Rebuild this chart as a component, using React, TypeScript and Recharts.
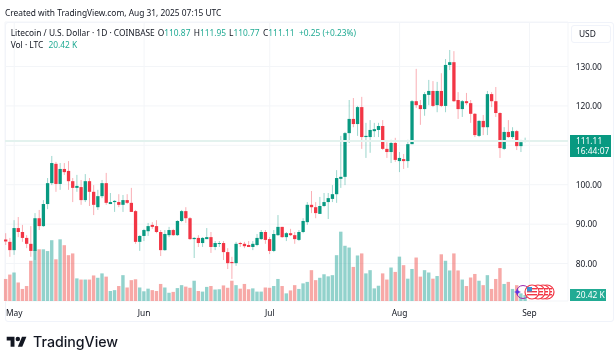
import { Bar, CartesianGrid, ComposedChart, ReferenceLine, XAxis, YAxis } from "recharts";

// daily candles, Apr 29 .. Aug 31 2025
const opens = [86.1,85.5,83.4,89.0,88.0,86.5,85.0,83.2,91.5,89.5,95.1,100.4,105.3,100.2,104.0,103.5,100.9,99.2,99.4,96.1,100.9,98.2,94.3,97.1,100.4,95.1,95.6,95.6,94.9,96.1,95.4,93.3,85.5,87.0,88.2,89.8,89.5,88.0,83.4,87.2,88.5,87.2,90.8,93.3,91.5,86.2,86.5,85.2,86.2,86.7,84.2,85.0,85.2,82.9,80.4,80.1,85.2,85.0,84.7,84.2,84.7,86.2,88.0,86.2,83.2,87.2,89.3,86.7,87.7,87.2,86.0,88.0,90.5,94.9,94.3,92.6,94.6,95.6,96.4,97.6,101.5,102.0,113.1,116.7,115.4,119.7,112.1,112.1,113.6,113.9,114.9,109.1,108.3,110.6,106.0,106.5,106.0,110.3,121.2,120.2,119.2,122.8,123.8,120.2,123.8,120.0,130.4,131.1,121.5,119.2,121.2,120.7,118.0,112.4,116.2,114.6,123.0,121.2,118.2,109.1,113.4,112.1,113.6,109.8,110.87];
const highs = [87.7,86.5,91.0,91.8,89.8,87.2,89.5,92.8,93.6,96.1,101.7,107.3,105.8,105.5,105.5,106.0,101.7,102.5,101.2,102.7,101.7,99.9,98.7,101.2,103.0,97.9,96.1,97.6,97.4,97.6,99.2,93.6,87.2,88.8,90.3,90.5,91.0,88.5,88.5,89.3,88.8,91.0,93.6,94.3,91.8,86.7,87.2,86.7,89.0,88.0,85.7,85.7,85.7,83.9,81.7,85.5,85.5,85.5,85.7,85.7,87.5,88.5,88.5,86.7,88.5,92.3,89.3,88.0,88.8,88.0,88.5,91.5,95.6,98.4,95.6,96.9,97.9,97.9,99.9,103.7,112.4,113.4,121.5,122.0,120.0,122.3,115.7,116.4,115.7,115.7,116.4,110.8,111.4,111.9,108.3,107.8,111.4,121.5,129.4,121.5,123.5,126.6,126.3,126.1,128.3,131.9,134.2,133.9,123.5,121.5,123.3,121.5,118.2,116.4,117.7,123.8,123.5,124.8,118.4,114.6,116.4,114.6,113.9,111.4,111.95];
const lows = [84.7,81.7,82.2,86.7,85.5,83.9,81.7,80.9,88.5,89.3,93.8,99.9,98.2,98.7,102.5,98.7,95.6,98.2,94.9,95.6,94.6,92.3,93.6,96.6,94.9,95.1,93.1,94.3,93.1,95.1,93.1,85.0,83.2,85.7,87.0,88.8,87.7,81.9,83.2,86.7,87.0,87.0,90.5,90.3,86.0,81.4,84.2,84.2,86.2,82.7,83.4,84.2,80.9,78.6,76.1,79.4,84.2,83.9,84.2,83.4,84.4,86.0,85.0,82.4,82.9,87.0,86.5,85.7,87.0,85.0,85.7,87.7,89.8,92.8,91.5,92.6,94.3,91.3,95.6,95.4,99.2,99.9,110.6,114.6,112.4,109.1,106.8,108.1,112.1,112.1,108.8,106.8,105.5,105.8,103.2,104.0,104.3,110.3,119.5,115.2,117.5,120.2,119.7,118.4,119.7,118.4,129.1,121.0,116.7,117.2,120.2,115.7,112.1,112.1,112.6,112.6,119.7,117.2,106.8,108.8,111.9,111.6,108.8,108.3,110.77];
const closes = [85.6,83.4,89.0,88.0,86.5,85.0,83.2,91.5,89.5,95.1,100.4,105.5,100.2,104.0,103.2,100.9,99.2,99.7,96.1,100.9,98.2,94.9,97.1,100.4,95.4,95.6,95.9,94.9,96.1,95.4,93.1,85.5,87.0,88.5,89.5,89.3,88.0,83.4,87.5,88.5,87.2,90.8,93.3,91.5,86.2,86.5,85.2,86.5,86.7,84.2,85.2,85.2,82.9,80.1,80.1,85.0,85.0,84.4,84.2,85.0,86.5,88.0,86.0,83.2,87.5,89.3,86.7,87.7,87.2,86.2,88.0,90.8,94.9,94.3,92.8,94.6,95.6,96.6,97.6,101.7,102.0,113.1,116.7,115.4,119.7,112.1,112.4,113.9,114.1,114.9,109.1,108.3,110.6,106.3,106.8,106.0,110.3,121.2,120.2,119.2,123.0,123.8,120.0,123.8,120.0,130.4,131.1,121.2,119.2,121.2,120.7,118.0,112.6,116.2,114.6,123.0,121.2,118.2,109.3,113.4,112.1,113.6,109.8,110.8,111.11];
const volumes = [75,90,97,63,41,51,137,173,176,176,170,207,142,210,190,156,162,77,73,73,73,87,79,94,83,34,37,51,88,46,71,74,46,33,42,37,34,58,46,28,31,44,54,49,45,69,34,32,48,51,39,40,53,45,69,54,42,58,40,43,32,32,46,45,51,75,51,26,36,54,41,60,65,105,71,79,91,84,88,156,236,188,182,116,155,162,94,105,43,52,94,73,114,99,151,122,76,109,148,83,105,97,76,85,159,137,104,162,104,73,51,80,92,69,54,88,41,75,112,58,65,41,54,26,20.42];

const priceTicks = [80, 90, 100, 110, 120, 130];
const monthTicks = [2, 33, 63, 94, 125];
const monthLabels = ["May", "Jun", "Jul", "Aug", "Sep"];

const lastClose = 111.11;
const UP = "#089981";
const DOWN = "#f23645";
const FONT = "'Noto Sans', sans-serif";

const rows = opens.map((open, i) => ({
  day: i,
  open,
  close: closes[i],
  high: highs[i],
  low: lows[i],
  range: [lows[i], highs[i]],
  volume: volumes[i],
}));

function Candle(props: any) {
  const { x, y, width, height, payload } = props;
  const color = payload.close >= payload.open ? UP : DOWN;
  const unit = height / (payload.high - payload.low);
  const top = y + (payload.high - Math.max(payload.open, payload.close)) * unit;
  const h = Math.max(Math.abs(payload.close - payload.open) * unit, 1);
  const mid = x + width / 2 + 0.3; // recharts truncates the bar offset
  return (
    <g>
      <line x1={mid} x2={mid} y1={y} y2={y + height} stroke={color} strokeOpacity={0.4} strokeWidth={1} />
      <rect x={mid - width / 2} y={top} width={width} height={h} fill={color} />
    </g>
  );
}

function VolumeBar(props: any) {
  const { x, y, width, height, payload } = props;
  const color = payload.close >= payload.open ? "#26a69a" : "#ef5350";
  return <rect x={x + 0.2} y={y} width={width} height={height} fill={color} fillOpacity={0.5} />;
}

function Label({ x, y, color = "#131722", size = 8.4, children }: any) {
  return (
    <div style={{ position: "absolute", left: x, top: y, color, fontSize: size, lineHeight: "12px", whiteSpace: "nowrap" }}>
      {children}
    </div>
  );
}

function Flag({ cx, cy, stars }: { cx: number; cy: number; stars?: boolean }) {
  return (
    <g>
      <circle cx={cx} cy={cy} r={7} fill="#fff" stroke={DOWN} strokeWidth={1.2} />
      <circle cx={cx} cy={cy} r={5.3} fill="#fff" />
      <rect x={cx - 5} y={cy - 4} width={10} height={1.4} fill={DOWN} />
      <rect x={cx - 5} y={cy - 1} width={10} height={1.4} fill={DOWN} />
      <rect x={cx - 5} y={cy + 2} width={10} height={1.4} fill={DOWN} />
      {stars && <rect x={cx - 5} y={cy - 5} width={5} height={4.5} fill="#3d8fd1" />}
    </g>
  );
}

export default function App() {
  return (
    <div style={{ position: "absolute", left: 0, top: 0, width: 616, height: 353, background: "#fff", fontFamily: FONT, overflow: "hidden", filter: "blur(0.3px)" }}>
      <div style={{ position: "absolute", left: 5, top: 22, width: 607, height: 298, border: "1px solid #f0f3fa", borderRadius: 3 }} />

      <ComposedChart
        width={616}
        height={353}
        data={rows}
        margin={{ top: 22, right: 3, bottom: 32, left: 5 }}
        style={{ position: "absolute", left: 0, top: 0 }}
      >
        <CartesianGrid xAxisId="main" yAxisId="price" stroke="#f3f5f8" strokeWidth={1} />
        <XAxis
          xAxisId="main"
          dataKey="day"
          type="number"
          domain={[-0.2, 134.2]}
          ticks={monthTicks}
          interval={0}
          height={20}
          axisLine={false}
          tickLine={false}
          tickMargin={3}
          tick={{ fontSize: 8.4, fill: "#131722", fontFamily: FONT }}
          tickFormatter={(v: number) => monthLabels[monthTicks.indexOf(v)]}
        />
        <XAxis xAxisId="vol" dataKey="day" type="number" domain={[-0.2, 134.2]} ticks={monthTicks} hide />
        <YAxis
          yAxisId="price"
          orientation="right"
          domain={[70.49, 141.3]}
          ticks={priceTicks}
          interval={0}
          width={45}
          axisLine={false}
          tickLine={false}
          tickMargin={1.7}
          tick={{ fontSize: 8.4, fill: "#131722", fontFamily: FONT, textAnchor: "start" }}
          tickFormatter={(v: number) => (v === 110 ? "" : v.toFixed(2))}
        />
        <YAxis yAxisId="volume" domain={[0, 950]} hide />
        <ReferenceLine xAxisId="main" yAxisId="price" y={lastClose} stroke="#e3f2ee" strokeWidth={2} />
        <Bar xAxisId="vol" yAxisId="volume" dataKey="volume" barSize={3.4} shape={VolumeBar} isAnimationActive={false} />
        <Bar xAxisId="main" yAxisId="price" dataKey="range" barSize={3.3} shape={Candle} isAnimationActive={false} />
      </ComposedChart>

      <Label x={5} y={7}>Created with TradingView.com, Aug 31, 2025 07:15 UTC</Label>
      <Label x={10.7} y={26.5}>Litecoin / U.S. Dollar · 1D · COINBASE</Label>
      <Label x={157.7} y={26.5}>O<span style={{ color: "#22ab94" }}>110.87</span></Label>
      <Label x={193.7} y={26.5}>H<span style={{ color: "#22ab94" }}>111.95</span></Label>
      <Label x={229} y={26.5}>L<span style={{ color: "#22ab94" }}>110.77</span></Label>
      <Label x={263} y={26.5}>C<span style={{ color: "#22ab94" }}>111.11</span></Label>
      <Label x={299} y={26.5} color="#22ab94">+0.25 (+0.23%)</Label>
      <Label x={10.7} y={39}>Vol · LTC</Label>
      <Label x={48.5} y={39} color="#22ab94">20.42 K</Label>

      <div style={{ position: "absolute", left: 571, top: 25, width: 40, height: 18, border: "1px solid #f0f3fa", borderRadius: 3, boxSizing: "border-box", fontSize: 8.4, lineHeight: "16px", paddingLeft: 7, color: "#131722" }}>
        USD
      </div>
      <div style={{ position: "absolute", left: 570, top: 135, width: 41, height: 22, background: UP, color: "#fff", fontSize: 8.4, lineHeight: "10px", paddingLeft: 6, paddingTop: 1, boxSizing: "border-box" }}>
        <div>111.11</div>
        <div>16:44:07</div>
      </div>
      <div style={{ position: "absolute", left: 570, top: 289, width: 36, height: 12, background: "#22ab94", color: "#fff", fontSize: 8.4, lineHeight: "12px", paddingLeft: 6, boxSizing: "border-box" }}>
        20.42 K
      </div>

      <svg width={616} height={353} style={{ position: "absolute", left: 0, top: 0 }}>
        <circle cx={523} cy={292} r={6.5} fill="none" stroke="#9c27b0" strokeWidth={1} />
        <path d="M517.5 288.5l1 2.5 2.5 1-2.5 1-1 2.5-1-2.5-2.5-1 2.5-1z" fill="#5e35e0" />
        <Flag cx={547} cy={292} />
        <Flag cx={543} cy={292} />
        <Flag cx={538} cy={292} />
        <Flag cx={532} cy={292} stars />
        <g transform="translate(6.7 334.5) scale(0.556)" fill="#131722">
          <path d="M14 22H7V11H0V4h14v18zM28 22h-8l7.5-18h8L28 22z" />
          <circle cx={20} cy={8} r={4} />
        </g>
      </svg>
      <div style={{ position: "absolute", left: 33, top: 331.5, fontFamily: "Inter, sans-serif", fontWeight: 500, fontSize: 14.2, lineHeight: "20px", color: "#131722", whiteSpace: "nowrap" }}>
        TradingView
      </div>
    </div>
  );
}
